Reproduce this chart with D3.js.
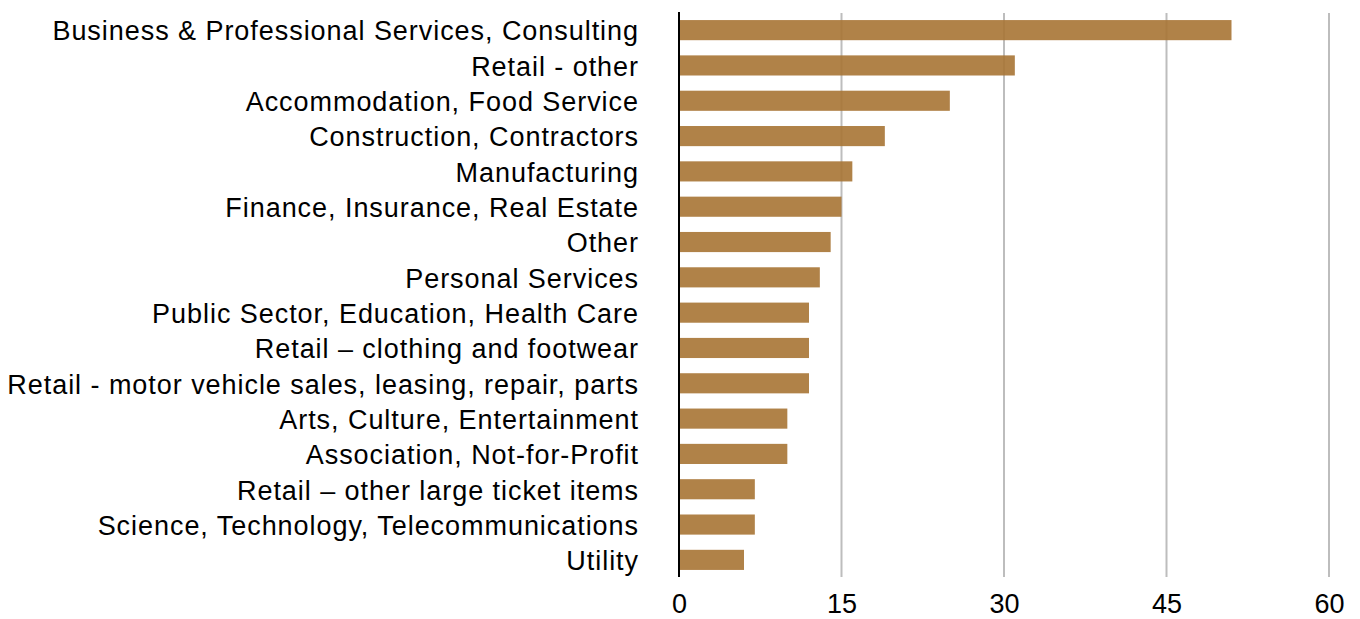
<!DOCTYPE html>
<html>
<head>
<meta charset="utf-8">
<script src="https://cdn.jsdelivr.net/npm/d3@7"></script>
<style>
  html, body { margin: 0; padding: 0; background: #fff; }
  svg { display: block; }
  text { font-family: "Liberation Sans", Arial, Helvetica, sans-serif; fill: #000; }
</style>
</head>
<body>
<svg id="chart" width="1360" height="619"></svg>
<script>
const categories = [
  "Business & Professional Services, Consulting",
  "Retail - other",
  "Accommodation, Food Service",
  "Construction, Contractors",
  "Manufacturing",
  "Finance, Insurance, Real Estate",
  "Other",
  "Personal Services",
  "Public Sector, Education, Health Care",
  "Retail \u2013 clothing and footwear",
  "Retail - motor vehicle sales, leasing, repair, parts",
  "Arts, Culture, Entertainment",
  "Association, Not-for-Profit",
  "Retail \u2013 other large ticket items",
  "Science, Technology, Telecommunications",
  "Utility"
];
const values = [51, 31, 25, 19, 16, 15, 14, 13, 12, 12, 12, 10, 10, 7, 7, 6];
const tickValues = [0, 15, 30, 45, 60];

const svg = d3.select("#chart");
const margin = { top: 13, right: 31, bottom: 42, left: 679 };
const W = 1360, H = 619;

const x = d3.scaleLinear().domain([0, 60]).range([margin.left, W - margin.right]);
const y = d3.scaleBand().domain(categories).range([margin.top, H - margin.bottom]).paddingInner(0.43).paddingOuter(0.2);

// vertical gridlines
svg.append("g").selectAll("line").data(tickValues.filter(d => d > 0)).join("line")
  .attr("x1", d => x(d)).attr("x2", d => x(d))
  .attr("y1", margin.top).attr("y2", H - margin.bottom)
  .attr("stroke", "#bdbdbd").attr("stroke-width", 2);

// bars
svg.append("g").selectAll("rect").data(values).join("rect")
  .attr("x", x(0))
  .attr("y", (d, i) => y(categories[i]))
  .attr("width", d => x(d) - x(0))
  .attr("height", y.bandwidth())
  .attr("fill", "#a77434")
  .attr("fill-opacity", 0.9);

// baseline
svg.append("line")
  .attr("x1", x(0)).attr("x2", x(0))
  .attr("y1", margin.top - 1).attr("y2", H - margin.bottom)
  .attr("stroke", "#000").attr("stroke-width", 2);

// category labels
const yAxis = d3.axisLeft(y).tickSize(0).tickPadding(40);
const gy = svg.append("g").attr("transform", `translate(${x(0)},0)`).call(yAxis);
gy.select(".domain").remove();
gy.selectAll("text")
  .attr("font-size", 27)
  .attr("letter-spacing", 0.95)
  .attr("dy", "0.38em")
  .style("font-family", "Liberation Sans, Arial, sans-serif")
  .attr("fill", "#000");

// value axis
const xAxis = d3.axisBottom(x).tickValues(tickValues).tickSize(0).tickPadding(17);
const gx = svg.append("g").attr("transform", `translate(0,${H - margin.bottom})`).call(xAxis);
gx.select(".domain").remove();
gx.selectAll("text")
  .attr("font-size", 27)
  .style("font-family", "Liberation Sans, Arial, sans-serif")
  .attr("fill", "#000");
</script>
</body>
</html>
